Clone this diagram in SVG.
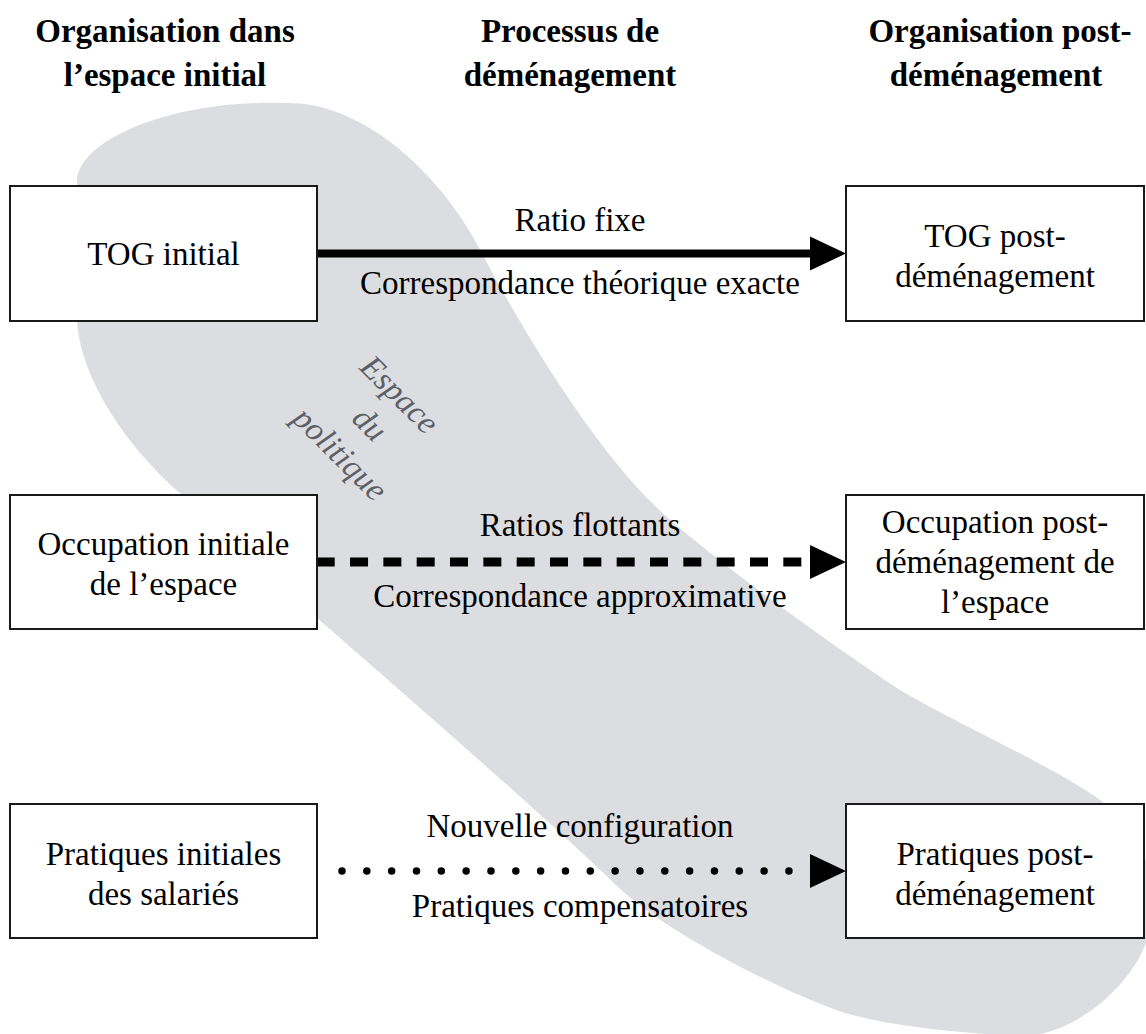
<svg xmlns="http://www.w3.org/2000/svg" width="1146" height="1034" viewBox="0 0 1146 1034">
<style>
.hdr{font-family:"Liberation Serif","Times New Roman",serif;font-size:33px;font-weight:bold;fill:#000;text-anchor:middle}
.t{font-family:"Liberation Serif","Times New Roman",serif;font-size:33px;fill:#000;text-anchor:middle}
.box{fill:#fff;stroke:#1a1a1a;stroke-width:2}
.pol{font-family:"Liberation Serif","Times New Roman",serif;font-size:33px;font-style:italic;fill:#5b6068;text-anchor:middle}
.ah{fill:#000}
</style>
<rect width="1146" height="1034" fill="#fff"/>
<path id="blob" fill="#dcdde0" d="M77,180 C80,140 170,100 283,103 C360,100 440,170 483,255 C505,298 590,450 667,517 C717,561 810,630 900,690 C950,720 1060,770 1100,800 C1150,835 1165,900 1143,950 C1125,990 1070,1040 1013,1036 C950,1032 880,1025 836,1010 C780,990 670,935 618,887 C560,830 400,690 317,618 C260,565 210,520 180,493 C130,450 80,380 77,320 Z"/>
<g id="headers">
<text class="hdr" x="165" y="42">Organisation dans</text>
<text class="hdr" x="165" y="86">l’espace initial</text>
<text class="hdr" x="570" y="42">Processus de</text>
<text class="hdr" x="570" y="86">déménagement</text>
<text class="hdr" x="1000" y="42">Organisation post-</text>
<text class="hdr" x="996" y="86">déménagement</text>
</g>
<g id="politique" transform="translate(370,424) rotate(45)">
<text class="pol" x="0" y="-31">Espace</text>
<text class="pol" x="0" y="11">du</text>
<text class="pol" x="0" y="53">politique</text>
</g>
<g id="connectors">
<line x1="317" y1="253.5" x2="814" y2="253.5" stroke="#000" stroke-width="8"/>
<polygon class="ah" points="810,236.5 846,253.5 810,270.5"/>
<line x1="316.7" y1="562" x2="801.5" y2="562" stroke="#000" stroke-width="9" stroke-dasharray="18 15.33"/>
<polygon class="ah" points="810,545 846,562 810,579"/>
<line x1="342" y1="871" x2="790" y2="871" stroke="#000" stroke-width="7.5" stroke-linecap="round" stroke-dasharray="0 24.83"/>
<polygon class="ah" points="810,854 846,871 810,888"/>
<text class="t" x="580" y="231">Ratio fixe</text>
<text class="t" x="580" y="294">Correspondance théorique exacte</text>
<text class="t" x="580" y="536">Ratios flottants</text>
<text class="t" x="580" y="607">Correspondance approximative</text>
<text class="t" x="580" y="837">Nouvelle configuration</text>
<text class="t" x="580" y="917">Pratiques compensatoires</text>
</g>
<g id="tog-initial">
<rect class="box" x="10" y="186" width="307" height="135"/>
<text class="t" x="163.5" y="265">TOG initial</text>
</g>
<g id="tog-post">
<rect class="box" x="846" y="186" width="298" height="135"/>
<text class="t" x="995" y="247">TOG post-</text>
<text class="t" x="995" y="287">déménagement</text>
</g>
<g id="occupation-initiale">
<rect class="box" x="10" y="495" width="307" height="134"/>
<text class="t" x="163.5" y="555">Occupation initiale</text>
<text class="t" x="163.5" y="595">de l’espace</text>
</g>
<g id="occupation-post">
<rect class="box" x="846" y="495" width="298" height="134"/>
<text class="t" x="995" y="533">Occupation post-</text>
<text class="t" x="995" y="573">déménagement de</text>
<text class="t" x="995" y="613">l’espace</text>
</g>
<g id="pratiques-initiales">
<rect class="box" x="10" y="804" width="307" height="134"/>
<text class="t" x="163.5" y="865">Pratiques initiales</text>
<text class="t" x="163.5" y="905">des salariés</text>
</g>
<g id="pratiques-post">
<rect class="box" x="846" y="804" width="298" height="134"/>
<text class="t" x="995" y="865">Pratiques post-</text>
<text class="t" x="995" y="905">déménagement</text>
</g>
</svg>
